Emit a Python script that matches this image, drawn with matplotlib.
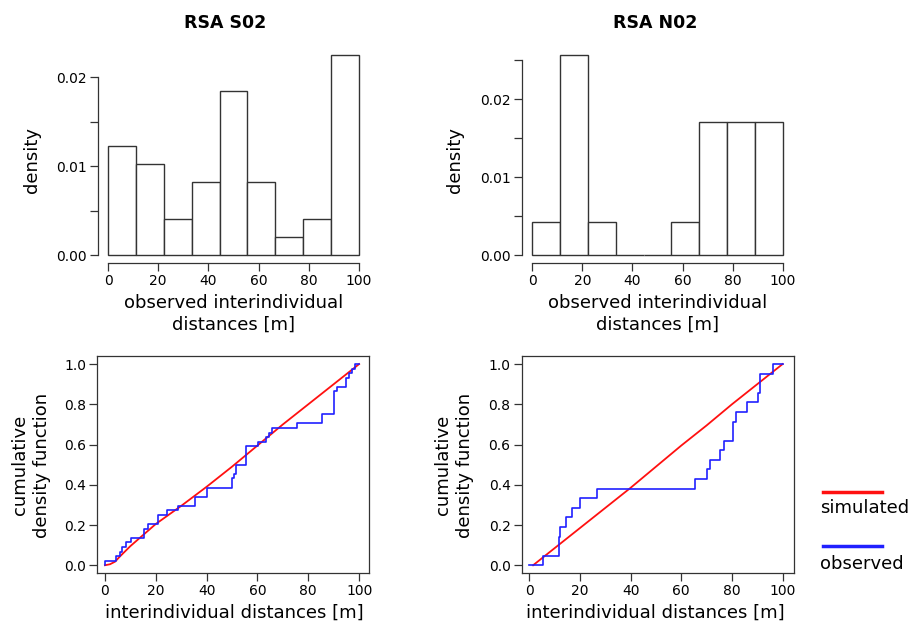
import matplotlib
matplotlib.use("Agg")
import matplotlib.pyplot as plt
from matplotlib.lines import Line2D
import numpy as np

plt.rcParams["font.family"] = ["DejaVu Sans"]

# observed interindividual distances [m] (read from the ECDF steps)
obs_s02 = [0.0, 4.2, 5.9, 6.6, 8.3, 10.2, 15.3, 15.3, 17.0, 21.0, 21.0,
           24.6, 28.8, 35.4, 35.4, 40.0, 40.0, 50.1, 50.1, 50.9, 51.4, 51.4,
           55.3, 55.3, 55.3, 55.3, 60.3, 63.2, 64.5, 65.8, 75.4, 85.2, 85.2,
           90.2, 90.2, 90.2, 90.2, 90.2, 91.1, 95.0, 95.0, 96.1, 97.0, 98.3]
obs_n02 = [5.3, 11.6, 11.6, 12.0, 14.5, 16.8, 20.1, 26.7, 65.3, 70.1, 71.2,
           75.4, 76.7, 80.3, 80.3, 81.7, 85.9, 90.3, 91.2, 91.2, 96.1]

# simulated CDF
sim_s02_x = [0, 2, 4, 6, 8, 10, 15, 20, 30, 40, 50, 60, 70, 80, 90, 100]
sim_s02_y = [0, 0.005, 0.018, 0.045, 0.07, 0.095, 0.15, 0.205, 0.295, 0.39,
             0.49, 0.595, 0.70, 0.80, 0.90, 1.0]
sim_n02_x = [1.5, 10, 20, 30, 40, 50, 60, 70, 80, 90, 100]
sim_n02_y = [0, 0.085, 0.185, 0.285, 0.385, 0.49, 0.595, 0.695, 0.80, 0.90, 1.0]

titles = ["RSA S02", "RSA N02"]
hist_bins = np.linspace(0, 100, 10)
W, H = 910, 626
dark = "#333333"

fig = plt.figure(figsize=(W / 100, H / 100), dpi=100)


def px(x0, y0, x1, y1):
    # pixel box -> figure fraction
    return [x0 / W, 1 - y1 / H, (x1 - x0) / W, (y1 - y0) / H]


def style(ax):
    ax.tick_params(direction="out", length=5.5, width=0.9, color=dark,
                   labelsize=10, pad=2.5, labelcolor="black")
    for s in ax.spines.values():
        s.set_color(dark)
        s.set_linewidth(0.9)


hist_boxes = [px(98, 46.8, 369, 263.3), px(522.3, 46.8, 792.7, 263.3)]
ecdf_boxes = [px(97.3, 356, 369.3, 573.3), px(521.7, 356, 794, 573.3)]
ecdf_xlim = [(-3, 104), (-3, 104.5)]
ytop = [0.02, 0.025]

for i, (obs, sx, sy) in enumerate([(obs_s02, sim_s02_x, sim_s02_y),
                                    (obs_n02, sim_n02_x, sim_n02_y)]):
    # histogram
    ax = fig.add_axes(hist_boxes[i])
    counts, edges, _ = ax.hist(obs, bins=hist_bins, density=True,
                               facecolor="white", edgecolor=dark, linewidth=1.0)
    ymax = counts.max()
    ax.set_xlim(-4, 104)
    ax.set_ylim(-0.04 * ymax, 1.04 * ymax)
    ax.spines["top"].set_visible(False)
    ax.spines["right"].set_visible(False)
    ax.spines["bottom"].set_bounds(0, 100)
    ax.spines["left"].set_bounds(0, ytop[i])
    ax.set_xticks(np.arange(0, 101, 20))
    yt = np.arange(0, ytop[i] + 1e-9, 0.005)
    ax.set_yticks(yt)
    ax.set_yticklabels(["%.2f" % v if round(v / 0.005) % 2 == 0 else "" for v in yt])
    style(ax)

    # ECDF
    ax2 = fig.add_axes(ecdf_boxes[i])
    n = len(obs)
    xs = np.r_[0, np.sort(obs), 100]
    ys = np.r_[0, np.arange(1, n + 1) / n, 1]
    ax2.plot(sx, sy, color="#ff1010", lw=1.3)
    ax2.step(xs, ys, where="post", color="#2020ff", lw=1.2)
    ax2.set_xlim(*ecdf_xlim[i])
    ax2.set_ylim(-0.04, 1.04)
    ax2.set_xticks(np.arange(0, 101, 20))
    ax2.set_yticks(np.arange(0, 1.01, 0.2))
    ax2.set_yticklabels(["%.1f" % v for v in np.arange(0, 1.01, 0.2)])
    style(ax2)

# texts
lab = dict(fontsize=13, ha="center", va="center")
fig.text(225 / W, 1 - 23 / H, titles[0], fontsize=12.5, fontweight="bold", ha="center", va="center")
fig.text(655 / W, 1 - 23 / H, titles[1], fontsize=12.5, fontweight="bold", ha="center", va="center")
for cx in [32, 455]:
    fig.text(cx / W, 1 - 160 / H, "density", rotation=90, **lab)
for cx in [31, 454]:
    fig.text(cx / W, 1 - 465 / H, "cumulative\ndensity function", rotation=90,
             linespacing=1.25, **lab)
for cx in [234, 658]:
    fig.text(cx / W, 1 - 314 / H, "observed interindividual\ndistances [m]",
             linespacing=1.3, **lab)
for cx in [234, 655]:
    fig.text(cx / W, 1 - 613 / H, "interindividual distances [m]", **lab)

# legend
fig.add_artist(Line2D([823 / W, 882 / W], [1 - 491.7 / H] * 2, color="#ff1010", lw=2.5))
fig.text(820 / W, 1 - 508 / H, "simulated", fontsize=13, ha="left", va="center")
fig.add_artist(Line2D([823 / W, 882 / W], [1 - 546 / H] * 2, color="#2020ff", lw=2.5))
fig.text(820 / W, 1 - 564 / H, "observed", fontsize=13, ha="left", va="center")

fig.savefig("out.png", dpi=100, facecolor="white")
